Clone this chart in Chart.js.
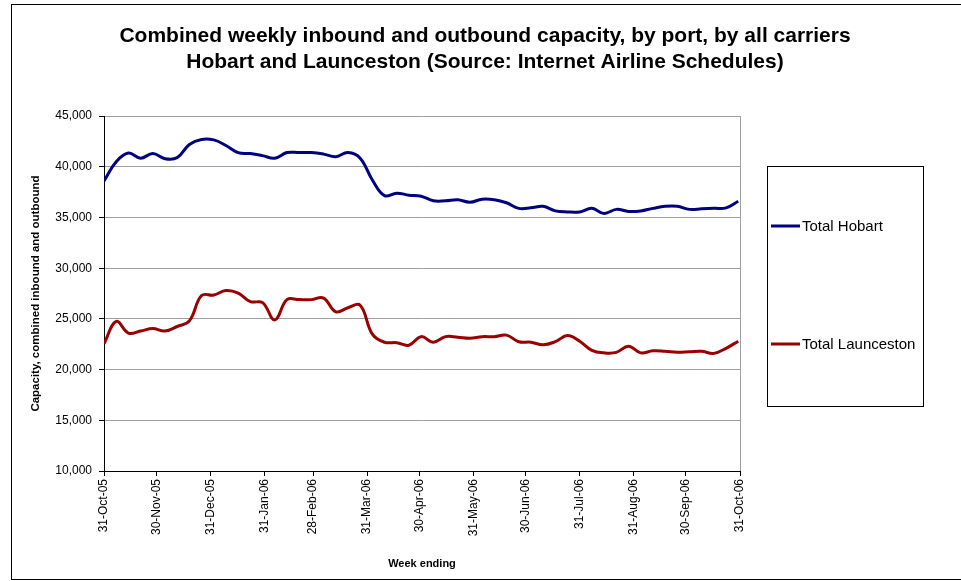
<!DOCTYPE html>
<html>
<head>
<meta charset="utf-8">
<script src="https://cdn.jsdelivr.net/npm/chart.js@4.4.1/dist/chart.umd.min.js"></script>
<style>
  html, body { margin: 0; padding: 0; background: #fff; }
  canvas { display: block; }
</style>
</head>
<body>
<canvas id="chart" width="961" height="581"></canvas>
<script>
// ---- Data (weekly, starting week ending 31-Oct-05) ----

const hobart = [
    38600, 40500, 41350, 40850, 41300, 40800, 40900, 42200, 42700, 42650,
    42100, 41400, 41300, 41100, 40850, 41400, 41400, 41400, 41250, 41000,
    41400, 40850, 38700, 37150, 37400, 37200, 37100, 36650, 36650, 36750,
    36500, 36800, 36750, 36450, 35900, 35950, 36100, 35650, 35550, 35550,
    35900, 35400, 35800, 35600, 35650, 35900, 36100, 36100, 35800, 35850,
    35900, 35950, 36600
];

const launceston = [
    22550, 24750, 23600, 23800, 24050, 23800, 24250, 24800, 27300, 27350,
    27800, 27550, 26700, 26600, 24900, 26900, 26900, 26900, 27050, 25700,
    26100, 26350, 23500, 22700, 22650, 22400, 23250, 22700, 23250, 23200,
    23100, 23250, 23250, 23400, 22750, 22700, 22450, 22750, 23350, 22800,
    21900, 21650, 21700, 22300, 21650, 21850, 21800, 21700, 21750, 21800,
    21600, 22100, 22800
];

// month-end ticks, in days since 31-Oct-05
const tickDays = [0, 30, 61, 92, 120, 151, 181, 212, 242, 273, 304, 334, 365];
const tickLabels = [
    "31-Oct-05", "30-Nov-05", "31-Dec-05", "31-Jan-06", "28-Feb-06", "31-Mar-06",
    "30-Apr-06", "31-May-06", "30-Jun-06", "31-Jul-06", "31-Aug-06", "30-Sep-06", "31-Oct-06"
];

const seriesNames = ["Total Hobart", "Total Launceston"];
const seriesColors = ["#000080", "#990000"];

const FONT = "'Liberation Sans', Arial, sans-serif";
const GRID = "#a0a0a0";

// ---- Plugins ----

const frame = {
    id: "frame",
    beforeDraw(chart) {
        const c = chart.ctx;
        c.save();
        c.fillStyle = "#fff";
        c.fillRect(0, 0, chart.width, chart.height);
        c.strokeStyle = "#000";
        c.lineWidth = 1;
        c.strokeRect(11.5, 4.5, chart.width + 20, chart.height - 6);
        c.restore();
    },
};

const boxLegend = {
    id: "boxLegend",
    afterDraw(chart) {
        const c = chart.ctx;
        const rows = [226, 344];
        c.save();
        c.strokeStyle = "#000";
        c.lineWidth = 1;
        c.strokeRect(767.5, 166.5, 156, 240);
        c.font = `15px ${FONT}`;
        c.textBaseline = "middle";
        c.fillStyle = "#000";
        chart.data.datasets.forEach((ds, i) => {
            c.strokeStyle = ds.borderColor;
            c.lineWidth = 3;
            c.beginPath();
            c.moveTo(771, rows[i]);
            c.lineTo(800, rows[i]);
            c.stroke();
            c.fillText(ds.label, 802, rows[i] + 1);
        });
        c.restore();
    },
};

// ---- Chart ----

const makeSeries = (vals) => vals.map((v, i) => ({ x: i * 7, y: v }));

new Chart(document.getElementById("chart"), {
    type: "line",
    data: {
        datasets: [
            {
                label: seriesNames[0],
                data: makeSeries(hobart),
                borderColor: seriesColors[0],
                borderWidth: 3,
                pointRadius: 0,
                tension: 0.4,
                fill: false,
            },
            {
                label: seriesNames[1],
                data: makeSeries(launceston),
                borderColor: seriesColors[1],
                borderWidth: 3,
                pointRadius: 0,
                tension: 0.4,
                fill: false,
            },
        ],
    },
    options: {
        responsive: false,
        animation: false,
        layout: { padding: { left: 9, right: 0, top: 0, bottom: 0 } },
        plugins: {
            legend: { display: false },
            tooltip: { enabled: false },
            title: {
                display: true,
                text: [
                    "Combined weekly inbound and outbound capacity, by port, by all carriers",
                    "Hobart and Launceston (Source: Internet Airline Schedules)",
                ],
                color: "#000",
                font: { family: FONT, size: 21, weight: "bold", lineHeight: 1.24 },
                padding: { top: 23, bottom: 41 },
            },
        },
        scales: {
            x: {
                type: "linear",
                min: 0,
                max: 365,
                afterBuildTicks: (s) => { s.ticks = tickDays.map((v) => ({ value: v })); },
                afterFit: (s) => { s.height = 110; },
                ticks: {
                    autoSkip: false,
                    minRotation: 90,
                    maxRotation: 90,
                    padding: 3,
                    color: "#000",
                    font: { family: FONT, size: 12 },
                    callback: (v) => tickLabels[tickDays.indexOf(v)],
                },
                grid: {
                    color: (c) => (c.tick && c.tick.value === 365 ? GRID : "rgba(0,0,0,0)"),
                    tickColor: "#000",
                    tickLength: 5,
                },
                border: { display: true, color: "#000", width: 1 },
                title: {
                    display: true,
                    text: "Week ending",
                    color: "#000",
                    font: { family: FONT, size: 11, weight: "bold" },
                    padding: { top: 4, bottom: 10 },
                },
            },
            y: {
                min: 10000,
                max: 45000,
                afterFit: (s) => { s.width = 95; },
                ticks: {
                    stepSize: 5000,
                    padding: 7,
                    color: "#000",
                    font: { family: FONT, size: 12 },
                    callback: (v) => v.toLocaleString("en-US"),
                },
                grid: {
                    color: GRID,
                    tickColor: "#000",
                    tickLength: 5,
                },
                border: { display: true, color: "#000", width: 1 },
                title: {
                    display: true,
                    text: "Capacity, combined inbound and outbound",
                    color: "#000",
                    font: { family: FONT, size: 11.5, weight: "bold" },
                    padding: { top: 20, bottom: 4 },
                },
            },
            y2: {
                position: "right",
                display: true,
                afterFit: (s) => { s.width = 221; },
                ticks: { display: false },
                grid: { drawOnChartArea: false, drawTicks: false },
                border: { display: false },
            },
        },
    },
    plugins: [frame, boxLegend],
});
</script>
</body>
</html>
